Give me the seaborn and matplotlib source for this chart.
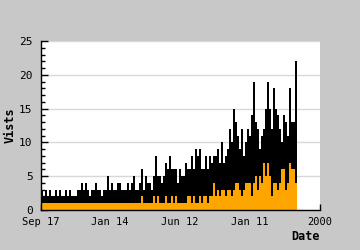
import matplotlib
matplotlib.use("Agg")
import matplotlib.pyplot as plt
import seaborn as sns
import pandas as pd
import numpy as np
from matplotlib.ticker import MultipleLocator

# Total visits per period (black) and subset (orange)
visits_total = [
    3, 2, 3, 2, 3, 2, 2, 3, 2, 3, 2, 2, 3, 2,
    3, 2, 2, 2, 3, 3, 4, 3, 4, 3, 2, 3, 3,
    4, 3, 3, 2, 3, 3, 5, 3, 4, 3, 3, 4, 4, 3, 3, 3, 4, 3, 4, 5, 3, 3, 4, 6, 3, 5, 4,
    4, 3, 5, 8, 5, 5, 4, 5, 7, 6, 8, 6, 6, 6, 4, 6, 5, 5, 7, 6, 6, 8, 6, 9, 8, 9, 6,
    6, 8, 6, 8, 7, 8, 8, 9, 7, 10, 7, 8, 9, 12, 10, 15, 13, 11, 9, 12, 8, 10, 12, 11, 14,
    19, 13, 12, 9, 11, 12, 15, 19, 15, 12, 18, 15, 14, 12, 10, 14, 13, 11, 18, 13, 13, 22,
]
visits_orange = [
    1, 1, 1, 1, 1, 1, 1, 1, 1, 1, 1, 1, 1, 1,
    1, 1, 1, 1, 1, 1, 1, 1, 1, 1, 1, 1, 1,
    1, 1, 1, 1, 1, 1, 1, 1, 1, 1, 1, 1, 1, 1, 1, 1, 1, 1, 1, 1, 1, 1, 1, 2, 1, 1, 1,
    1, 1, 2, 1, 2, 1, 1, 1, 2, 1, 1, 2, 1, 2, 1, 1, 1, 1, 1, 2, 2, 1, 2, 1, 1, 2, 1,
    2, 2, 1, 2, 2, 4, 2, 3, 2, 3, 3, 2, 3, 3, 2, 3, 4, 4, 3, 2, 3, 4, 4, 4, 2,
    4, 5, 3, 5, 4, 7, 5, 7, 5, 2, 4, 4, 3, 4, 6, 6, 3, 4, 7, 6, 6, 4,
]
tick_labels = ["Sep 17", "Jan 14", "Jun 12", "Jan 11", "2000"]

period = list(range(len(visits_total)))
df = pd.DataFrame({"period": period, "total": visits_total, "orange": visits_orange})

mono = "DejaVu Sans Mono"
fig = plt.figure(figsize=(3.6, 2.5), dpi=100, facecolor="#c8c8c8")
ax = fig.add_axes([41 / 360, 1 - 210 / 250, 279 / 360, 169 / 250])
ax.set_facecolor("white")

sns.barplot(data=df, x="period", y="total", color="black", native_scale=True,
            width=1, linewidth=0, errorbar=None, saturation=1, ax=ax, zorder=2)
sns.barplot(data=df, x="period", y="orange", color="#ffa500", native_scale=True,
            width=1, linewidth=0, errorbar=None, saturation=1, ax=ax, zorder=3)

ax.set_xlim(-0.5, 139)
ax.set_ylim(0, 25)

ax.yaxis.set_major_locator(MultipleLocator(5))
ax.yaxis.set_minor_locator(MultipleLocator(1))
ax.set_xticks([-0.5, 34, 69, 104, 139])
ax.set_xticklabels(tick_labels, fontfamily=mono, fontsize=7.5)
for lab in ax.get_yticklabels():
    lab.set_fontfamily(mono)
    lab.set_fontsize(8)

ax.tick_params(axis="y", which="major", direction="in", length=5, width=1, pad=6, colors="black")
ax.tick_params(axis="y", which="minor", direction="in", length=3, width=1)
ax.tick_params(axis="x", which="major", direction="in", length=4, width=1, pad=5)

ax.grid(axis="y", which="major", color="#d8d8d8", linewidth=1, zorder=0)
ax.set_axisbelow(True)

for s in ["top", "right"]:
    ax.spines[s].set_visible(False)
for s in ["left", "bottom"]:
    ax.spines[s].set_color("black")
    ax.spines[s].set_linewidth(1)
    ax.spines[s].set_zorder(5)

ax.set_xlabel("")
ax.set_ylabel("")
fig.text(10 / 360, 1 - 125 / 250, "Vists", rotation=90, ha="center", va="center",
         fontfamily=mono, fontweight="bold", fontsize=8.5)
fig.text(305 / 360, 1 - 236 / 250, "Date", ha="center", va="center",
         fontfamily=mono, fontweight="bold", fontsize=8.5)

fig.savefig("out.png", dpi=100, facecolor=fig.get_facecolor())
